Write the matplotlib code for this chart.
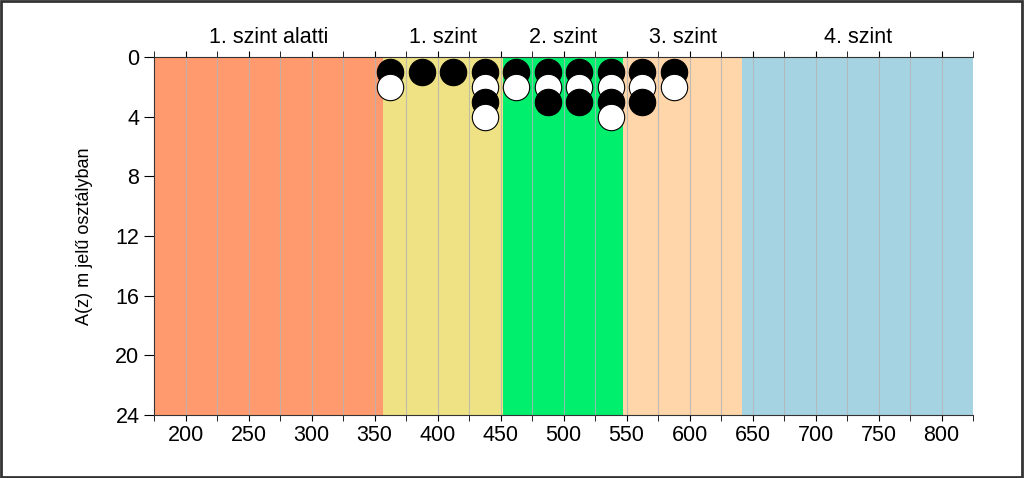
import matplotlib
matplotlib.use("Agg")
from matplotlib import pyplot as plt
from matplotlib.patches import Rectangle
import numpy as np

plt.rcParams['font.family'] = ['Liberation Sans', 'DejaVu Sans']

# competence level bands
band_edges = [175, 357, 452, 547, 642, 825]
band_colors = ['#FF9A6E', '#EEE285', '#00F06E', '#FFD5AA', '#A6D3E2']
band_labels = ['1. szint alatti', '1. szint', '2. szint', '3. szint', '4. szint']

# students per score bin (bin centers)
bin_centers = [362.5, 387.5, 412.5, 437.5, 462.5, 487.5, 512.5, 537.5, 562.5, 587.5]
bin_counts = [2, 1, 1, 4, 2, 3, 3, 4, 3, 2]

fig = plt.figure(figsize=(10.24, 4.78), dpi=100)
ax = fig.add_axes([0.1504, 0.1318, 0.7998, 0.749])

for i in range(len(band_colors)):
    ax.axvspan(band_edges[i], band_edges[i + 1], color=band_colors[i], lw=0, zorder=0)
    ax.text((band_edges[i] + band_edges[i + 1]) / 2, -0.6, band_labels[i],
            ha='center', va='bottom', fontsize=15.5)

for x in np.arange(200, 825, 25):
    ax.axvline(x, color='#b4b4b4', lw=0.8, alpha=0.8, zorder=1)

# stacked markers, alternating black / white
for x, n in zip(bin_centers, bin_counts):
    for k in range(1, n + 1):
        fc = 'black' if k % 2 == 1 else 'white'
        ax.plot(x, k, 'o', ms=19, mfc=fc, mec='black', mew=0.8, zorder=3 + k)

ax.set_xlim(175, 825)
ax.set_ylim(24, 0)
ax.set_yticks(range(0, 25, 4))
ax.set_xticks(range(200, 801, 50))
ax.set_xticks(range(175, 826, 25), minor=True)
ax.tick_params(axis='x', which='both', top=True, direction='out', length=4, labelsize=15.5)
ax.tick_params(axis='y', direction='out', length=7, labelsize=15.5)
ax.spines['right'].set_visible(False)
for s in ['left', 'bottom', 'top']:
    ax.spines[s].set_color('#333333')
ax.set_ylabel('A(z) m jelű osztályban', fontsize=13, labelpad=16)

fig.add_artist(Rectangle((0.001, 0.002), 0.997, 0.995, transform=fig.transFigure,
                         fill=False, ec='#333333', lw=2))

fig.savefig('out.png', dpi=100)
